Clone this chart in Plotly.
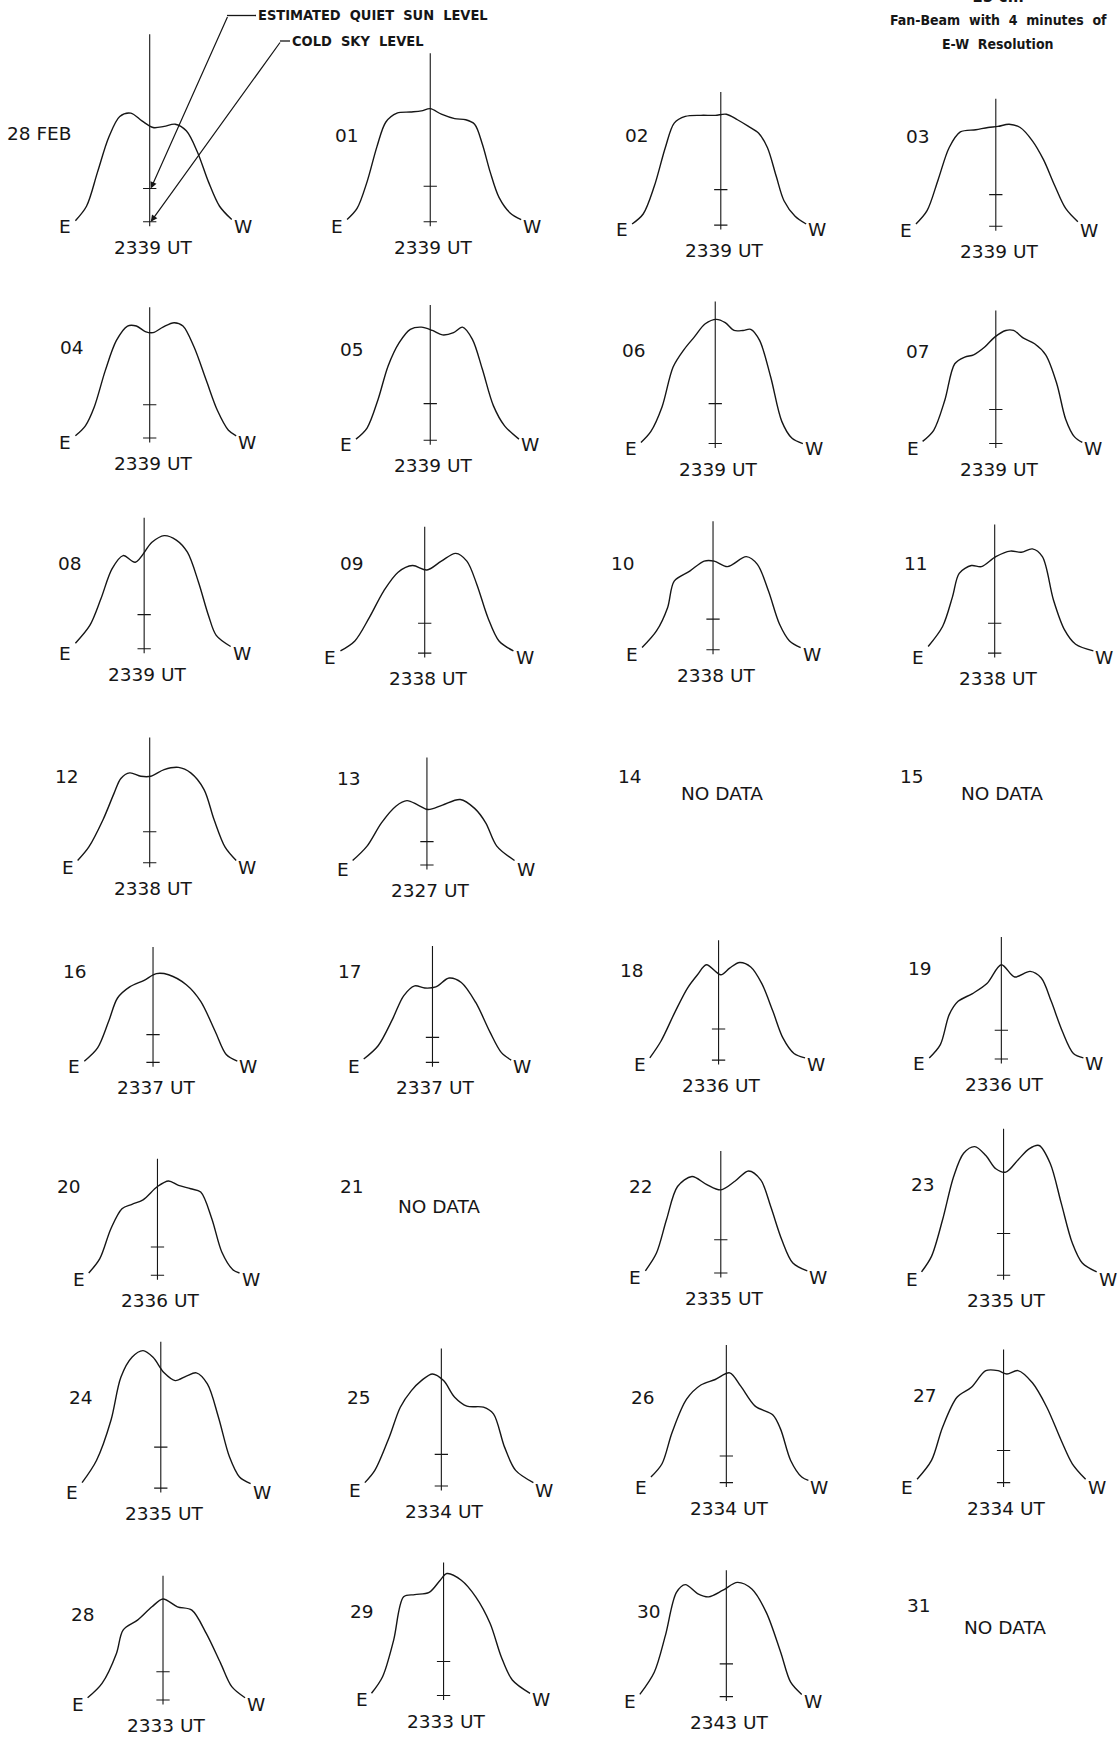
import plotly.graph_objects as go

# ---------------------------------------------------------------------------
# 15 cm fan-beam drift scans, one per day (E -> W), 2333-2343 UT.
# Offsets are measured from the central-meridian line, levels above cold sky.
# ---------------------------------------------------------------------------
days = ["28 FEB", "01", "02", "03", "04", "05", "06", "07",
        "08", "09", "10", "11", "12", "13", "14", "15",
        "16", "17", "18", "19", "20", "21", "22", "23",
        "24", "25", "26", "27", "28", "29", "30", "31"]

scan_times = ["2339 UT", "2339 UT", "2339 UT", "2339 UT", "2339 UT", "2339 UT", "2339 UT", "2339 UT",
              "2339 UT", "2338 UT", "2338 UT", "2338 UT", "2338 UT", "2327 UT", None, None,
              "2337 UT", "2337 UT", "2336 UT", "2336 UT", "2336 UT", None, "2335 UT", "2335 UT",
              "2335 UT", "2334 UT", "2334 UT", "2334 UT", "2333 UT", "2333 UT", "2343 UT", None]

# (offset, level) pairs along each scan
scan_28feb = [(-67, 1), (-57, 14), (-47, 45), (-37, 76), (-27, 95), (-17, 98), (-7, 91), (3, 85),
              (13, 86), (23, 88), (33, 82), (43, 63), (53, 36), (63, 14), (74, 2)]
scan_01 = [(-75, 2), (-66, 12), (-57, 36), (-48, 68), (-40, 90), (-30, 98), (-18, 99), (-8, 100),
           (0, 102), (10, 97), (22, 93), (32, 92), (40, 88), (47, 70), (54, 45), (62, 22), (72, 8), (82, 2)]
scan_02 = [(-80, 1), (-70, 10), (-60, 35), (-50, 70), (-42, 92), (-32, 98), (-18, 99), (-5, 99),
           (5, 100), (15, 95), (25, 89), (34, 83), (42, 70), (50, 44), (57, 22), (67, 8), (77, 1)]
scan_03 = [(-72, 2), (-62, 14), (-52, 42), (-42, 71), (-32, 85), (-18, 87), (-7, 89), (2, 90),
           (12, 92), (22, 89), (33, 77), (43, 60), (53, 37), (63, 16), (74, 4)]
scan_04 = [(-67, 2), (-58, 11), (-50, 28), (-40, 61), (-30, 88), (-20, 101), (-12, 101), (-4, 96),
           (3, 95), (12, 100), (22, 104), (30, 101), (40, 82), (51, 52), (61, 25), (71, 7), (78, 2)]
scan_05 = [(-67, 1), (-57, 11), (-47, 37), (-38, 67), (-28, 88), (-18, 100), (-8, 102), (2, 99),
           (11, 95), (21, 97), (29, 102), (38, 91), (47, 64), (57, 31), (67, 13), (80, 1)]
scan_06 = [(-67, 1), (-58, 11), (-48, 33), (-38, 69), (-28, 85), (-19, 96), (-9, 108), (1, 112),
           (9, 109), (17, 102), (25, 102), (32, 103), (40, 93), (50, 60), (60, 20), (69, 5), (79, 0)]
scan_07 = [(-66, 2), (-56, 12), (-46, 39), (-37, 72), (-28, 78), (-20, 80), (-10, 87), (-1, 96),
           (9, 102), (16, 102), (25, 95), (35, 90), (45, 80), (55, 54), (63, 22), (71, 6), (78, 1)]
scan_08 = [(-62, 5), (-49, 21), (-39, 45), (-29, 72), (-19, 84), (-8, 78), (7, 96), (18, 102),
           (29, 98), (39, 87), (49, 60), (58, 30), (65, 12), (78, 2)]
scan_09 = [(-76, 2), (-63, 11), (-50, 32), (-37, 56), (-24, 73), (-11, 79), (2, 75), (15, 83),
           (28, 90), (38, 83), (47, 62), (57, 32), (67, 11), (80, 2)]
scan_10 = [(-64, 2), (-51, 17), (-41, 38), (-35, 62), (-21, 71), (-8, 80), (1, 80), (13, 75),
           (30, 84), (40, 77), (50, 53), (60, 23), (69, 8), (79, 2)]
scan_11 = [(-60, 6), (-47, 24), (-38, 51), (-32, 72), (-21, 79), (-12, 78), (1, 87), (14, 92),
           (24, 91), (34, 94), (43, 87), (53, 48), (63, 21), (73, 8), (89, 2)]
scan_12 = [(-65, 2), (-55, 14), (-42, 39), (-32, 63), (-26, 76), (-18, 81), (-8, 78), (1, 78),
           (13, 84), (26, 86), (37, 81), (49, 66), (58, 39), (68, 14), (78, 2)]
scan_13 = [(-67, 4), (-54, 17), (-41, 38), (-28, 53), (-18, 58), (-8, 54), (1, 50), (14, 54),
           (30, 59), (43, 51), (53, 38), (63, 17), (79, 4)]
scan_16 = [(-62, 1), (-50, 13), (-40, 37), (-32, 58), (-21, 68), (-8, 74), (3, 80), (14, 79),
           (30, 70), (43, 55), (56, 28), (66, 7), (76, 1)]
scan_17 = [(-62, 3), (-49, 15), (-36, 39), (-26, 60), (-16, 69), (-7, 67), (3, 68), (15, 76),
           (26, 72), (39, 54), (52, 27), (62, 9), (71, 2)]
scan_18 = [(-62, 2), (-52, 17), (-39, 44), (-28, 65), (-19, 77), (-11, 86), (2, 77), (10, 83),
           (19, 88), (29, 84), (39, 69), (49, 44), (58, 20), (68, 6), (78, 2)]
scan_19 = [(-65, 1), (-55, 13), (-47, 40), (-39, 52), (-26, 59), (-13, 68), (0, 85), (12, 74),
           (26, 79), (36, 73), (45, 52), (55, 25), (65, 5), (74, 1)]
scan_20 = [(-62, 2), (-52, 15), (-42, 42), (-32, 60), (-23, 64), (-13, 68), (0, 80), (10, 85),
           (19, 81), (30, 78), (39, 75), (49, 51), (58, 21), (68, 5), (74, 2)]
scan_22 = [(-68, 2), (-58, 18), (-49, 48), (-39, 78), (-26, 87), (-13, 80), (0, 75), (13, 83),
           (25, 92), (36, 84), (45, 60), (55, 30), (65, 9), (78, 2)]
scan_23 = [(-74, 3), (-65, 17), (-55, 50), (-45, 89), (-36, 110), (-26, 116), (-16, 108), (-7, 96),
           (2, 93), (13, 104), (23, 114), (32, 117), (42, 101), (52, 65), (62, 29), (71, 11), (84, 3)]
scan_24 = [(-71, 5), (-58, 25), (-45, 61), (-36, 100), (-26, 118), (-16, 124), (-7, 118), (3, 104),
           (13, 97), (23, 101), (32, 104), (42, 94), (52, 64), (62, 28), (71, 10), (81, 4)]
scan_25 = [(-69, 3), (-60, 14), (-47, 44), (-37, 71), (-27, 86), (-18, 95), (-8, 101), (2, 95),
           (12, 80), (23, 72), (38, 71), (47, 65), (57, 35), (67, 14), (83, 3)]
scan_26 = [(-68, 5), (-58, 17), (-49, 45), (-36, 75), (-23, 88), (-10, 93), (3, 99), (13, 87),
           (26, 69), (42, 61), (49, 48), (58, 20), (68, 5), (74, 2)]
scan_27 = [(-78, 3), (-65, 20), (-55, 50), (-42, 77), (-29, 86), (-16, 101), (-5, 101), (3, 98),
           (13, 101), (26, 90), (39, 68), (52, 38), (62, 17), (74, 3)]
scan_28 = [(-68, 2), (-55, 15), (-42, 42), (-36, 63), (-23, 72), (-10, 84), (0, 91), (13, 84),
           (26, 81), (39, 60), (52, 33), (62, 12), (74, 2)]
scan_29 = [(-65, 2), (-55, 17), (-45, 50), (-36, 89), (-26, 91), (-13, 93), (-3, 104), (3, 110),
           (16, 104), (29, 89), (42, 65), (52, 35), (62, 14), (78, 2)]
scan_30 = [(-78, 2), (-65, 22), (-55, 55), (-45, 94), (-37, 101), (-26, 93), (-16, 90), (-3, 96),
           (10, 103), (23, 97), (36, 76), (49, 40), (58, 13), (68, 2)]

scans = [scan_28feb, scan_01, scan_02, scan_03, scan_04, scan_05, scan_06, scan_07,
         scan_08, scan_09, scan_10, scan_11, scan_12, scan_13, None, None,
         scan_16, scan_17, scan_18, scan_19, scan_20, None, scan_22, scan_23,
         scan_24, scan_25, scan_26, scan_27, scan_28, scan_29, scan_30, None]

# estimated quiet-sun level for each day (cold sky = 0)
quiet_sun = [30, 32, 32, 28.5, 30, 33, 36, 30.7,
             30.7, 27, 27.7, 27, 28, 21, None, None,
             25, 22.5, 28, 26, 25.5, None, 30, 37.6,
             37, 28.5, 24, 29, 25.5, 30.7, 29.5, None]

# top of the central-meridian marker
transit_top = [169, 152, 120, 115, 118, 122, 128, 120,
               118, 114, 116, 116, 113, 97, None, None,
               104, 105, 108, 110, 105, None, 110, 132,
               132, 124, 124, 120, 112, 120, 114, None]

# ---------------------------------------------------------------------------
# Sheet layout (measured on a 1010-px wide sheet, scaled to the page)
# ---------------------------------------------------------------------------
PAGE_W, PAGE_H = 1120, 1738
SCALE = PAGE_W / 1010

panel_cx = [135, 388, 650, 898, 135, 388, 645, 898,
            130, 383, 643, 897, 135, 385, 645, 898,
            138, 390, 648, 903, 142, 390, 650, 905,
            145, 398, 655, 905, 147, 400, 655, 900]
panel_by = [200, 200, 203, 204, 395, 397, 400, 400,
            585, 589, 586, 589, 778, 780, 778, 778,
            958, 958, 956, 955, 1150, 1150, 1148, 1150,
            1342, 1340, 1337, 1337, 1533, 1529, 1530, 1530]
label_dx = [-100, -75, -76, -70, -70, -71, -73, -70,
            -67, -66, -81, -71, -75, -70, -77, -76,
            -70, -74, -78, -73, -80, -73, -72, -73,
            -72, -74, -75, -71, -72, -74, -70, -71]
label_dy = [80, 78, 81, 81, 82, 82, 84, 83,
            77, 81, 78, 81, 78, 78, 78, 78,
            82, 82, 81, 82, 80, 80, 78, 82,
            82, 80, 77, 79, 77, 76, 77, 82]

X_HALF = 100          # panel half width, in offset units
Y_LO, Y_HI = -30, 175  # panel level range

INK = "#161616"
FONT = "DejaVu Sans"
HEAD_FONT = "DejaVu Sans Condensed, Liberation Sans Narrow, DejaVu Sans"
LABEL_SIZE = 18.5

fig = go.Figure()
axes = {}
annotations = []


def px_to_paper(x, y):
    return x / PAGE_W, 1 - y / PAGE_H


for i, day in enumerate(days):
    n = i + 1
    suffix = "" if n == 1 else str(n)
    xa, ya = "x" + suffix, "y" + suffix
    cx, by = panel_cx[i], panel_by[i]

    left = (cx - X_HALF) * SCALE / PAGE_W
    right = (cx + X_HALF) * SCALE / PAGE_W
    top = 1 - (by - Y_HI) * SCALE / PAGE_H
    bottom = 1 - (by - Y_LO) * SCALE / PAGE_H
    axes["xaxis" + suffix] = dict(domain=[left, right], range=[-X_HALF, X_HALF],
                                  visible=False, fixedrange=True)
    axes["yaxis" + suffix] = dict(domain=[bottom, top], range=[Y_LO, Y_HI],
                                  visible=False, fixedrange=True)

    txt = dict(xref=xa, yref=ya, showarrow=False,
               font=dict(family=FONT, size=LABEL_SIZE, color=INK))
    annotations.append(dict(txt, x=label_dx[i], y=label_dy[i], text=day))

    scan = scans[i]
    if scan is None:
        annotations.append(dict(txt, x=6, y=62, text="NO DATA"))
        continue

    xs = [p[0] for p in scan]
    ys = [p[1] for p in scan]
    fig.add_trace(go.Scatter(
        x=xs, y=ys, mode="lines", xaxis=xa, yaxis=ya,
        line=dict(color=INK, width=1.4, shape="spline", smoothing=0.9),
        hoverinfo="skip", showlegend=False))

    q = quiet_sun[i]
    fig.add_trace(go.Scatter(
        x=[0, 0, None, -6, 6, None, -6, 6],
        y=[-4, transit_top[i], None, 0, 0, None, q, q],
        mode="lines", xaxis=xa, yaxis=ya,
        line=dict(color=INK, width=1.1),
        hoverinfo="skip", showlegend=False))

    annotations.append(dict(txt, x=xs[0] - 9, y=-4, text="E"))
    annotations.append(dict(txt, x=xs[-1] + 10, y=-4, text="W"))
    annotations.append(dict(txt, x=3, y=-23, text=scan_times[i]))

# Key: leader arrows onto the first day's markers
bend_quiet = (227, 15.5)
bend_cold = (280, 41)
for level, bend, label, text_x in [(quiet_sun[0], bend_quiet, "ESTIMATED  QUIET  SUN  LEVEL", 256),
                                   (0, bend_cold, "COLD  SKY  LEVEL", 290)]:
    tip_x = panel_cx[0] * SCALE
    tip_y = (panel_by[0] - level) * SCALE
    annotations.append(dict(
        xref="x", yref="y", x=1, y=level, text="", showarrow=True,
        ax=bend[0] - tip_x, ay=bend[1] - tip_y,
        arrowhead=2, arrowsize=1.1, arrowwidth=1.2, arrowcolor=INK, standoff=0))
    x0, y0 = px_to_paper(bend[0], bend[1])
    x1, _ = px_to_paper(text_x, bend[1])
    fig.add_shape(type="line", xref="paper", yref="paper", x0=x0, y0=y0, x1=x1, y1=y0,
                  line=dict(color=INK, width=1.3))
    annotations.append(dict(
        xref="paper", yref="paper", x=x1, y=y0, xanchor="left", yanchor="middle",
        text="<b>" + label + "</b>", showarrow=False,
        font=dict(family=HEAD_FONT, size=14.5, color=INK)))

# Title block, top right
for text, ypx, size in [("15 cm", -4, 17),
                        ("Fan-Beam  with  4  minutes  of", 20, 14),
                        ("E-W  Resolution", 44, 14)]:
    xp, yp = px_to_paper(998, ypx)
    annotations.append(dict(
        xref="paper", yref="paper", x=xp, y=yp, xanchor="center", yanchor="middle",
        text="<b>" + text + "</b>", showarrow=False,
        font=dict(family=HEAD_FONT, size=size, color=INK)))

fig.update_layout(
    width=PAGE_W, height=PAGE_H,
    margin=dict(l=0, r=0, t=0, b=0),
    paper_bgcolor="white", plot_bgcolor="rgba(0,0,0,0)",
    showlegend=False,
    annotations=annotations,
    **axes,
)

fig.write_html("out.html", config={"displayModeBar": False, "staticPlot": True},
               post_script="document.body.style.margin='0';")
